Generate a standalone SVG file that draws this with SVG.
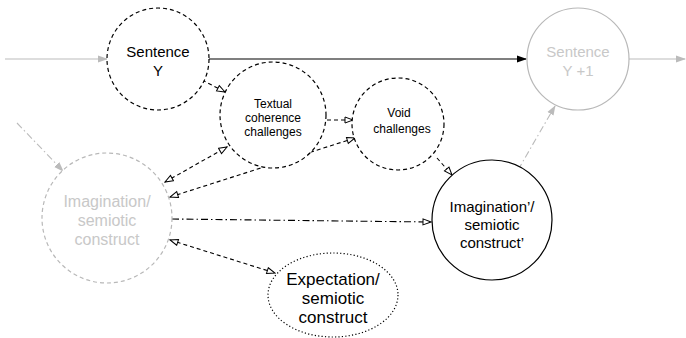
<svg xmlns="http://www.w3.org/2000/svg" width="686" height="338" viewBox="0 0 686 338">
<style>
text{font-family:"Liberation Sans",Arial,sans-serif;text-anchor:middle;fill:#000}
.g text{fill:#c8c8c8}
.node{fill:#fff;stroke:#000;stroke-width:1.2}
.dash{stroke-dasharray:4,3}
.dot{stroke-dasharray:1.2,2.2}
.gray{stroke:#b8b8b8}
.c{fill:none;stroke:#000;stroke-width:1.1}
.cd{stroke-dasharray:4,3}
.cdd{stroke-dasharray:7,3,1.5,3}
.cg{stroke:#bbb}
</style>
<defs>
<marker id="open" markerUnits="userSpaceOnUse" markerWidth="10" markerHeight="9" refX="9" refY="4" orient="auto-start-reverse" viewBox="0 0 10 8"><path d="M1,1 L9,4 L1,7 z" fill="#fff" stroke="#000" stroke-width="1"/></marker>
<marker id="fill" markerUnits="userSpaceOnUse" markerWidth="10" markerHeight="9" refX="9" refY="4" orient="auto" viewBox="0 0 10 8"><path d="M0,0.5 L10,4 L0,7.5 z" fill="#000"/></marker>
<marker id="gfill" markerUnits="userSpaceOnUse" markerWidth="10" markerHeight="9" refX="9" refY="4" orient="auto" viewBox="0 0 10 8"><path d="M0,0.5 L10,4 L0,7.5 z" fill="#bbb"/></marker>
</defs>
<g id="connectors">
<line class="c cg" x1="5" y1="59" x2="107" y2="59" marker-end="url(#gfill)"/>
<line class="c" x1="209" y1="59" x2="526" y2="59" marker-end="url(#fill)"/>
<line class="c cg" x1="629" y1="59" x2="685" y2="59" marker-end="url(#gfill)"/>
<line class="c cd" x1="202" y1="80" x2="225" y2="92" marker-end="url(#open)"/>
<line class="c cd" x1="327" y1="120" x2="353" y2="120" marker-end="url(#open)"/>
<line class="c cd" x1="437" y1="158" x2="452" y2="175" marker-end="url(#open)"/>
<line class="c cd" x1="165" y1="182" x2="227" y2="147" marker-start="url(#open)" marker-end="url(#open)"/>
<line class="c cd" x1="170" y1="197" x2="355" y2="138" marker-start="url(#open)" marker-end="url(#open)"/>
<line class="c cdd" x1="172" y1="219" x2="431" y2="222" marker-end="url(#open)"/>
<line class="c cd" x1="170" y1="240" x2="275" y2="273" marker-start="url(#open)" marker-end="url(#open)"/>
<line class="c cg cdd" x1="17" y1="123" x2="63" y2="171" marker-end="url(#gfill)"/>
<line class="c cg cdd" x1="518" y1="170" x2="555" y2="106" marker-end="url(#gfill)"/>
</g>
<g id="sentenceY">
<circle class="node dash" cx="158" cy="59" r="51"/>
<text x="158" y="57" font-size="15">Sentence</text>
<text x="158" y="76" font-size="15">Y</text>
</g>
<g id="sentenceY1" class="g">
<circle class="node gray" cx="578" cy="59" r="51"/>
<text x="578" y="57" font-size="15">Sentence</text>
<text x="578" y="76" font-size="15">Y +1</text>
</g>
<g id="textual">
<circle class="node dash" cx="273" cy="115" r="53"/>
<text x="273" y="108" font-size="12">Textual</text>
<text x="273" y="122" font-size="12">coherence</text>
<text x="273" y="136" font-size="12">challenges</text>
</g>
<g id="void">
<circle class="node dash" cx="398" cy="124" r="46"/>
<text x="399" y="117" font-size="12">Void</text>
<text x="402" y="133" font-size="12">challenges</text>
</g>
<g id="imagination" class="g">
<circle class="node dash gray" cx="107" cy="218" r="65"/>
<text x="107" y="207" font-size="16">Imagination/</text>
<text x="107" y="226" font-size="16">semiotic</text>
<text x="107" y="245" font-size="16">construct</text>
</g>
<g id="imagination2">
<circle class="node" cx="492" cy="220" r="60"/>
<text x="492" y="212" font-size="15">Imagination’/</text>
<text x="492" y="230" font-size="15">semiotic</text>
<text x="492" y="248" font-size="15">construct’</text>
</g>
<g id="expectation">
<ellipse class="node dot" cx="333" cy="295" rx="65" ry="42"/>
<text x="333" y="285" font-size="17">Expectation/</text>
<text x="333" y="304" font-size="17">semiotic</text>
<text x="333" y="323" font-size="17">construct</text>
</g>
</svg>
